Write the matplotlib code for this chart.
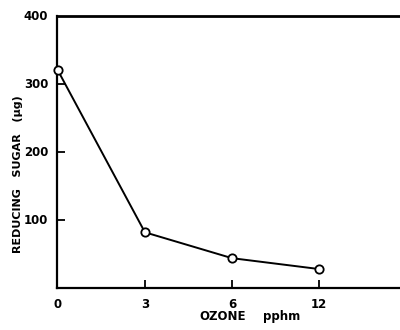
import matplotlib
matplotlib.use('Agg')
import matplotlib.pyplot as plt

# ozone levels (pphm) and reducing sugar (ug)
ozone_labels = ["0", "3", "6", "12"]
sugar = [320, 82, 44, 28]
y_ticks = [100, 200, 300]
y_tick_labels = ["100", "200", "300"]

plt.rcParams['font.family'] = ['DejaVu Sans']
plt.rcParams['font.weight'] = 'bold'

fig = plt.figure(figsize=(4.0, 3.3), dpi=100)
ax = fig.add_axes([0.1425, 0.127, 0.8575, 0.8245])

xpos = list(range(len(ozone_labels)))
ax.plot(xpos, sugar, color='black', lw=1.4, marker='o', ms=6,
        mfc='white', mec='black', mew=1.3, clip_on=False, zorder=3)

ax.set_xlim(-0.01, 3.93)
ax.set_ylim(0, 400)

ax.spines['right'].set_visible(False)
ax.spines['top'].set_linewidth(2.0)
ax.spines['left'].set_linewidth(1.6)
ax.spines['bottom'].set_linewidth(1.6)

ax.set_xticks(xpos[1:])
ax.set_xticklabels([])
ax.set_yticks(y_ticks)
ax.set_yticklabels([])
ax.tick_params(axis='both', direction='in', length=6, width=1.3)

# tick labels drawn as text so that "0" and "400" sit on the axis corners
for x, lab in zip(xpos, ozone_labels):
    ax.text(x, -0.035, lab, transform=ax.get_xaxis_transform(),
            ha='center', va='top', fontsize=8.5, fontweight='bold')
for y, lab in zip(y_ticks + [400], y_tick_labels + ["400"]):
    ax.text(-0.025, y, lab, transform=ax.get_yaxis_transform(),
            ha='right', va='center', fontsize=8.5, fontweight='bold')

fig.text(0.045, 0.473, "REDUCING   SUGAR   (\u03bcg)", rotation=90,
         ha='center', va='center', fontsize=8, fontweight='bold')
fig.text(0.556, 0.04, "OZONE", ha='center', va='center',
         fontsize=8.5, fontweight='bold')
fig.text(0.705, 0.04, "pphm", ha='center', va='center',
         fontsize=8.5, fontweight='bold')

fig.savefig('out.png', dpi=100)
